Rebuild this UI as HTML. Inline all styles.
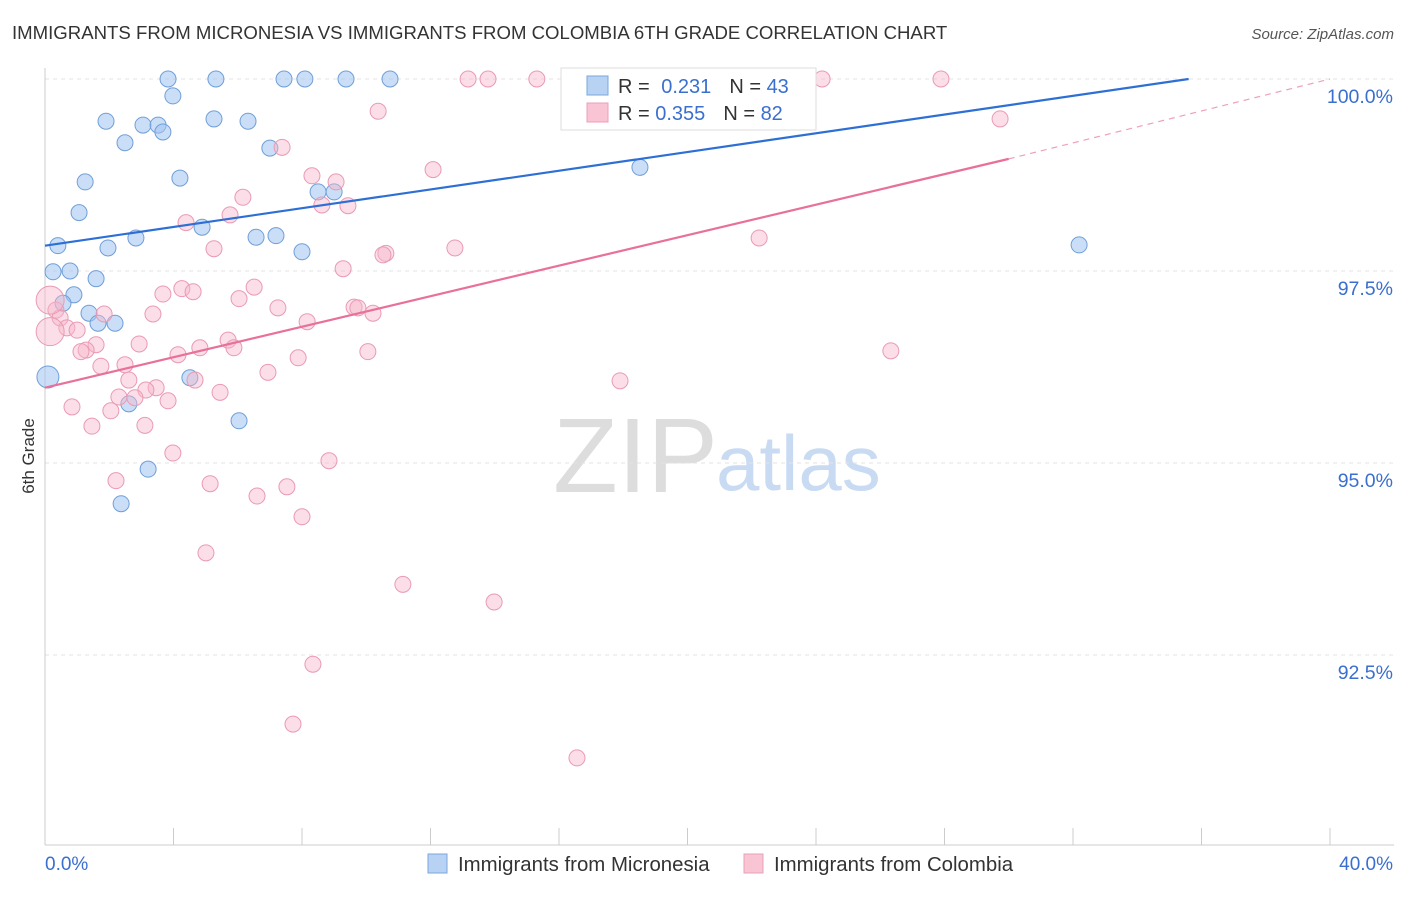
<!DOCTYPE html>
<html><head><meta charset="utf-8"><style>
body{margin:0;background:#fff;font-family:"Liberation Sans",sans-serif;}
svg text{font-family:"Liberation Sans",sans-serif;}
</style></head><body>
<svg id="chart" width="1406" height="892">
<text x="12" y="39" font-size="18.6" fill="#333">IMMIGRANTS FROM MICRONESIA VS IMMIGRANTS FROM COLOMBIA 6TH GRADE CORRELATION CHART</text>
<text x="1394" y="39" font-size="15" fill="#555" font-style="italic" text-anchor="end">Source: ZipAtlas.com</text>
<text x="34" y="456" font-size="17" fill="#333" transform="rotate(-90 34 456)" text-anchor="middle">6th Grade</text>
<text x="553" y="492" font-size="106" fill="#ddd" font-family="Liberation Serif">ZIP</text>
<text x="716" y="490" font-size="78" fill="#c9dbf2">atlas</text>
<g id="grid"></g><g id="axes"></g><g id="pts"></g><g id="lines"></g>
<g>
<rect x="561" y="68" width="255" height="62" fill="#fff" stroke="#ddd"/>
<rect x="587" y="76" width="21" height="19" fill="#b8d2f3" stroke="#7aa7dc"/>
<rect x="587" y="103" width="21" height="19" fill="#f9c4d4" stroke="#eba0b8"/>
<text x="618" y="93" font-size="20" fill="#333">R = <tspan fill="#3a6fd0" dx="6">0.231</tspan><tspan fill="#333" dx="18">N = </tspan><tspan fill="#3a6fd0">43</tspan></text>
<text x="618" y="120" font-size="20" fill="#333">R = <tspan fill="#3a6fd0">0.355</tspan><tspan fill="#333" dx="18">N = </tspan><tspan fill="#3a6fd0">82</tspan></text>
</g>
<g>
<rect x="428" y="854" width="19" height="19" fill="#b8d2f3" stroke="#7aa7dc"/>
<text x="458" y="871" font-size="20.4" fill="#333">Immigrants from Micronesia</text>
<rect x="744" y="854" width="19" height="19" fill="#f9c4d4" stroke="#eba0b8"/>
<text x="774" y="871" font-size="20.4" fill="#333">Immigrants from Colombia</text>
</g>
</svg>
<script>
const yTicks=[100,97.5,95,92.5];
const yTickLabels=["100.0%","97.5%","95.0%","92.5%"];
const xTickLabels=["0.0%","40.0%"];
const blueX=[3.83,5.32,7.44,8.09,9.37,10.74,3.98,1.90,3.05,3.52,3.67,5.26,6.32,2.49,7.00,1.25,4.20,1.06,8.50,9.00,18.52,0.40,1.96,2.83,4.89,6.57,7.19,8.00,32.19,0.25,0.78,1.59,0.90,0.56,1.37,1.65,2.18,0.09,4.51,2.61,6.04,3.21,2.37];
const blueY=[100,100,100,100,100,100,99.78,99.45,99.40,99.40,99.31,99.48,99.45,99.17,99.10,98.66,98.71,98.26,98.53,98.53,98.85,97.83,97.80,97.93,98.07,97.94,97.96,97.75,97.84,97.49,97.50,97.40,97.19,97.08,96.95,96.82,96.82,96.12,96.11,95.77,95.55,94.92,94.47];
const pinkX=[13.17,13.79,15.31,20.82,24.19,27.89,10.37,29.73,7.38,12.08,8.31,9.06,8.62,9.43,6.16,5.76,4.39,5.26,10.61,10.52,12.76,22.23,9.28,3.67,4.26,4.61,6.51,6.04,7.25,9.62,9.74,10.21,3.36,1.84,0.34,0.47,0.68,1.00,8.16,5.70,2.93,4.82,5.88,1.59,1.28,1.12,4.14,7.88,10.05,26.33,1.74,2.49,6.94,2.61,4.67,17.90,3.46,3.14,5.45,2.30,2.80,3.83,0.84,2.05,3.11,1.46,3.98,8.84,2.21,5.14,7.53,6.60,8.00,5.01,11.14,13.98,8.34,7.72,16.56,0.16,0.16];
const pinkY=[100,100,100,100,100,100,99.58,99.48,99.11,98.82,98.74,98.66,98.36,98.35,98.46,98.23,98.13,97.79,97.73,97.71,97.80,97.93,97.53,97.20,97.27,97.23,97.29,97.14,97.02,97.03,97.02,96.95,96.94,96.94,96.99,96.89,96.76,96.73,96.84,96.60,96.55,96.50,96.50,96.54,96.47,96.45,96.41,96.37,96.45,96.46,96.26,96.28,96.18,96.08,96.08,96.07,95.98,95.95,95.92,95.86,95.85,95.81,95.73,95.68,95.49,95.48,95.13,95.03,94.77,94.73,94.69,94.57,94.30,93.83,93.42,93.19,92.38,91.60,91.16,96.71,97.12];
const blueLine=[0,97.83,35.6,100];
const pinkLine=[0,95.98,30,98.96];
const pinkDash=[30,98.96,40,100];
const ns="http://www.w3.org/2000/svg";
const X=v=>45+v/40*1285, Y=v=>79+(100-v)/2.5*192;
function mk(t,a,p){const e=document.createElementNS(ns,t);for(const k in a)e.setAttribute(k,a[k]);document.getElementById(p).appendChild(e);return e;}
yTicks.forEach((t,i)=>{
 const l=mk('line',{x1:45,x2:1394,y1:Y(t),y2:Y(t),stroke:'#e3e3e3','stroke-dasharray':'4 4'},'grid');
 
 
 const tx=mk('text',{x:1393,y:Y(t)+24,'font-size':19.5,fill:'#3a6fd0','text-anchor':'end'},'axes');tx.textContent=yTickLabels[i];
 
 
});
mk('line',{x1:45,x2:45,y1:68,y2:845,stroke:'#ccc'},'axes');
mk('line',{x1:45,x2:1394,y1:845,y2:845,stroke:'#ccc'},'axes');
for(let i=0;i<=10;i++){mk('line',{x1:X(i*4),x2:X(i*4),y1:828,y2:845,stroke:'#ccc'},'axes');}
[[0,'start',45],[1,'end',1393]].forEach(([i,a,x])=>{const t=mk('text',{x:x,y:870,'font-size':19,fill:'#3a6fd0','text-anchor':a},'axes');t.textContent=xTickLabels[i];
 
 });
blueX.forEach((v,i)=>{const c=mk('circle',{cx:X(v),cy:Y(blueY[i]),r:i==37?11:8,fill:'rgba(160,195,240,0.55)',stroke:'#6f9fd8','stroke-width':1},'pts');
 
 });
pinkX.forEach((v,i)=>{const c=mk('circle',{cx:X(v),cy:Y(pinkY[i]),r:i>=79?14:8,fill:'rgba(246,182,202,0.45)',stroke:'#ea9ab4','stroke-width':1},'pts');
 
 });
let l1=mk('line',{x1:X(blueLine[0]),y1:Y(blueLine[1]),x2:X(blueLine[2]),y2:Y(blueLine[3]),stroke:'#2d6fd4','stroke-width':2.2},'lines');


let l2=mk('line',{x1:X(pinkLine[0]),y1:Y(pinkLine[1]),x2:X(pinkLine[2]),y2:Y(pinkLine[3]),stroke:'#e8709a','stroke-width':2.2},'lines');


let l3=mk('line',{x1:X(pinkDash[0]),y1:Y(pinkDash[1]),x2:X(pinkDash[2]),y2:Y(pinkDash[3]),stroke:'#eea0ba','stroke-width':1.2,'stroke-dasharray':'6 5'},'lines');


</script>
</body></html>
